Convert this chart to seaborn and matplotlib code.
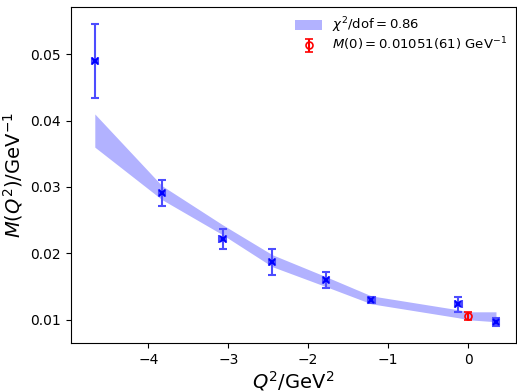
import numpy as np
import matplotlib
matplotlib.use("Agg")
import matplotlib.pyplot as plt
import seaborn as sns

# lattice data points
q2 = [-4.67, -3.83, -3.07, -2.45, -1.78, -1.21, -0.12, 0.35]
m_val = [0.0490, 0.0291, 0.0222, 0.0187, 0.0160, 0.0130, 0.0123, 0.0097]
m_err = [0.0056, 0.0019, 0.0015, 0.0019, 0.0012, 0.0005, 0.0012, 0.0006]

# fit band
band_q2 = [-4.67, -3.83, -3.07, -2.45, -1.78, -1.21, -0.12, 0.0, 0.35]
band_lo = [0.0360, 0.0281, 0.0228, 0.0180, 0.0150, 0.0124, 0.0103, 0.0100, 0.0097]
band_hi = [0.0410, 0.0302, 0.0243, 0.0198, 0.0165, 0.0136, 0.0115, 0.0112, 0.0112]

# extrapolated value at Q^2 = 0
m0_q2 = [0.0]
m0_val = [0.01051]
m0_err = [0.00061]

sns.set_style("ticks", {"text.color": "black", "axes.labelcolor": "black",
                        "xtick.color": "black", "ytick.color": "black",
                        "axes.edgecolor": "black"})
plt.rcParams["font.family"] = ["DejaVu Sans"]

fig, ax = plt.subplots(figsize=(5.17, 3.92), dpi=100)
fig.subplots_adjust(left=0.137, right=0.998, bottom=0.125, top=0.982)

ax.fill_between(band_q2, band_lo, band_hi, color="blue", alpha=0.3, lw=0,
                label=r"$\chi^2/\mathrm{dof} = 0.86$")
ax.errorbar(q2, m_val, yerr=m_err, xerr=0.04, fmt="x", color="blue",
            ecolor="#4d4dff", ms=5, mew=1.5, capsize=3, elinewidth=1.5, capthick=1.5)
ax.errorbar(m0_q2, m0_val, yerr=m0_err, fmt="o", color="red", mfc="none",
            ms=5, mew=1.2, capsize=3, label=r"$M(0) = 0.01051(61)$ GeV$^{-1}$")

ax.set_xlim(-4.97, 0.6)
ax.set_ylim(0.0065, 0.0571)
ax.set_xticks([-4, -3, -2, -1, 0])
ax.set_yticks([0.01, 0.02, 0.03, 0.04, 0.05])
ax.tick_params(labelsize=10)
ax.set_xlabel(r"$Q^2/\mathrm{GeV}^2$", fontsize=14, labelpad=2)
ax.set_ylabel(r"$M(Q^2)/\mathrm{GeV}^{-1}$", fontsize=14)
ax.legend(loc="upper right", frameon=False, fontsize=9.5, labelspacing=0.05,
          borderaxespad=0.25)

plt.savefig("out.png", dpi=100)
